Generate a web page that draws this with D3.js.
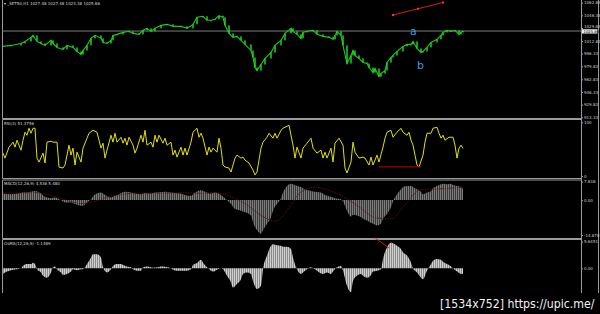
<!doctype html>
<html lang="en">
<head>
<meta charset="utf-8">
<title>SET50 H1 - RSI, MACD, OsMA</title>
<script src="https://cdnjs.cloudflare.com/ajax/libs/d3/7.8.5/d3.min.js"></script>
<style>
  body { margin: 0; background: #000; }
  svg { display: block; }
  text { font-family: "DejaVu Sans", sans-serif; }
</style>
</head>
<body>
<svg id="svg" width="600" height="314"></svg>
<script>
// bars are counted from the left edge of the chart (H1 bars)
var priceBars = [0,4,9,11,14,15,17,19,21,24,25,27,30,32,35,37,39,40,42,44,46,49,50,52,54,55,57,60,63,65,68,70,72,74,76,79,82,85,89,92,95,97,100,102,104,106,108,110,111,113,115,117,119,121,124,125,126,127,129,131,134,136,139,141,144,145,147,149,150,152,155,157,160,163,165,166,167,169,170,172,174,175,176,178,180,182,183,185,186,188,189,191,192,194,195,197,200,202,204,205,207,209,210,212,214,217,219,220,222,224,226,228,229,230];
var priceClose = [1005.8,1007.1,1009.7,1012.3,1017.6,1020.2,1012.3,1009.7,1007.1,1013.7,1009.7,1004.5,1001.9,1007.1,1004.5,999.2,995.3,1000.5,1007.1,1016.3,1020.2,1016.3,1011.0,1009.7,1013.7,1020.2,1021.5,1024.1,1025.5,1022.8,1021.5,1026.8,1029.4,1025.5,1029.4,1033.3,1034.6,1032.0,1032.0,1029.4,1034.6,1043.8,1045.1,1039.9,1039.9,1041.2,1045.8,1043.8,1033.3,1022.8,1017.6,1018.9,1013.7,1008.4,1000.5,991.4,978.2,974.3,982.2,990.1,997.9,1007.1,1013.7,1022.8,1029.4,1025.5,1021.5,1016.3,1024.1,1025.5,1026.8,1021.5,1018.9,1017.6,1015.0,1020.2,1025.5,1020.2,1007.1,983.5,994.0,1000.5,994.0,990.1,984.8,983.5,978.2,971.7,976.9,966.4,970.4,974.3,984.8,991.4,994.0,999.2,1005.8,1008.4,1008.4,1012.3,1003.2,997.9,999.2,1004.5,1011.0,1015.0,1020.2,1024.1,1026.8,1025.5,1026.8,1021.5,1024.1,1025.86];
var priceTicks = [1062.83,1046.33,1029.83,1012.83,996.33,979.83,962.83,946.33,929.83,913.33];
var lastPrice = 1025.86;

var trendBars = [195, 220];
var trendPrices = [1046.8, 1063.1];

var waveLabels = ['a', 'b'];
var waveBars = [205.2, 208.8];
var wavePrices = [1020.3, 976.3];

var rsiBars = [0,1,3,5,6,7,9,10,11,12,13,14,15,16,17,18,20,21,22,24,25,27,28,30,31,33,34,35,36,37,39,40,42,43,45,47,49,50,51,52,54,55,56,57,59,60,61,62,63,65,66,67,69,70,71,72,74,75,76,77,78,80,81,82,84,85,86,87,89,90,91,92,94,95,97,98,99,100,102,103,104,105,107,108,109,110,111,113,114,115,116,117,119,120,121,123,125,126,127,129,130,132,133,135,136,137,139,140,142,143,145,146,147,149,150,152,154,155,157,159,160,161,162,164,165,166,168,170,171,172,174,175,176,178,180,181,183,184,185,187,188,190,191,192,194,195,197,199,200,202,203,204,205,206,207,208,210,211,212,214,215,217,218,219,220,221,223,225,226,227,228,229,230];
var rsiValues = [42.6,33.3,53.7,63.0,53.7,66.7,48.1,66.7,81.5,75.9,88.9,79.6,88.9,88.9,33.3,25.9,42.6,24.1,63.0,64.8,63.0,63.0,16.7,14.8,20.4,57.4,38.9,51.9,20.4,44.4,25.9,51.9,70.4,79.6,85.2,81.5,51.9,61.1,33.3,48.1,75.9,63.0,79.6,63.0,72.2,61.1,70.4,57.4,72.2,57.4,42.6,51.9,75.9,63.0,85.2,57.4,63.0,53.7,75.9,63.0,75.9,61.1,70.4,57.4,63.0,38.9,48.1,35.2,53.7,38.9,51.9,38.9,63.0,81.5,88.9,72.2,79.6,70.4,38.9,53.7,44.4,51.9,44.4,70.4,51.9,20.4,16.7,14.8,7.4,20.4,33.3,38.9,33.3,35.2,29.6,24.1,11.1,1.9,7.4,51.9,63.0,72.2,79.6,70.4,79.6,70.4,85.2,88.9,92.6,94.4,57.4,33.3,53.7,33.3,51.9,61.1,70.4,51.9,42.6,48.1,33.3,44.4,33.3,51.9,25.9,61.1,70.4,57.4,14.8,5.6,25.9,63.0,44.4,33.3,35.2,33.3,20.4,35.2,20.4,38.9,25.9,53.7,70.4,81.5,85.2,72.2,81.5,88.9,81.5,75.9,81.5,66.7,57.4,38.9,20.4,16.7,38.9,63.0,79.6,79.6,88.9,90.7,79.6,70.4,75.9,66.7,72.2,72.2,57.4,33.3,51.9,57.4,51.4];
var rsiTicks = [100, 0];
var rsiMarkBars = [188, 209];
var rsiMarkValues = [17, 17];

var macdBars = [0,4,7,10,14,16,19,21,24,26,29,31,34,36,39,40,42,44,46,49,51,54,56,59,61,64,66,69,71,74,76,79,81,84,86,89,91,94,96,99,101,104,106,109,111,114,116,119,121,124,125,127,129,130,132,134,135,137,139,140,142,144,145,147,149,151,154,156,159,161,164,166,169,170,172,174,175,177,179,180,182,184,185,187,189,190,192,194,195,197,199,200,202,204,205,207,209,210,212,214,215,217,219,220,222,224,225,227,229,230];
var macdMain = [2.8,2.5,2.8,3.2,3.6,3.9,2.8,1.4,0.8,1.1,-0.1,-1.0,-1.0,-1.7,-2.4,-2.4,-1.0,0.4,2.5,3.2,2.2,1.1,1.8,3.0,3.6,3.2,2.8,2.5,3.0,2.8,3.2,3.4,3.6,3.2,3.0,2.8,2.2,1.8,3.2,4.2,3.6,2.8,3.2,2.2,0.8,-1.7,-3.8,-4.5,-5.2,-6.6,-9.4,-12.9,-14.3,-12.9,-10.1,-7.3,-4.5,-1.7,0.8,3.2,6.0,7.0,6.7,6.0,5.6,4.6,3.9,3.6,3.2,2.2,1.4,0.8,0.4,-0.6,-4.5,-7.0,-6.2,-6.6,-7.3,-8.0,-8.7,-9.8,-10.1,-10.8,-10.1,-8.0,-5.9,-3.1,-0.5,2.5,4.6,5.6,6.0,6.0,5.6,4.6,3.6,2.5,3.2,3.9,5.0,6.0,6.7,7.0,6.7,7.0,6.4,6.0,5.6,4.6];
var signalBars = [0,9,16,24,31,39,46,54,61,69,79,89,99,106,114,121,129,136,144,149,156,164,171,179,186,194,201,209,219,230];
var signalValues = [3.0,3.0,3.2,2.0,0.2,-1.5,-0.5,1.8,2.6,3.0,3.0,3.1,2.9,3.2,1.5,-1.5,-6.5,-9.0,-2.0,3.5,5.5,3.8,1.0,-3.5,-7.5,-8.0,-2.0,4.5,4.8,5.48];
var macdTicks = [7.838, 0, -14.878];
var macdTickLabels = ['7.838', '0.00', '-14.878'];

var osmaBars = [0,2,5,7,9,10,12,14,15,16,17,19,20,22,24,25,26,27,29,30,32,34,35,37,39,40,42,44,45,47,49,50,52,54,55,57,59,60,62,64,65,67,69,70,72,74,75,77,79,80,82,84,85,87,89,90,92,94,95,97,99,100,102,104,105,107,109,110,112,114,115,117,119,120,122,124,125,127,129,130,132,134,135,137,139,140,142,144,145,147,149,150,152,154,155,157,159,160,162,164,165,167,169,170,172,174,175,177,179,180,182,184,185,187,189,190,192,194,195,197,199,200,202,204,205,207,209,210,212,214,215,217,219,220,222,224,225,227,229,230];
var osmaValues = [-1.2,-0.7,-0.3,-0.2,0,0.5,0.9,0.9,1.2,0.9,-0.2,-0.9,-1.6,-2.0,-0.9,0.2,0.4,-0.2,-0.9,-1.4,-1.2,-0.7,-0.2,-0.4,-0.2,-0.2,0.9,2.3,3.0,3.0,2.3,0.2,-0.9,-0.2,0.5,0.9,0.9,0.7,0.4,0.2,-0.2,-0.5,-0.5,0.2,0.4,0.2,0.1,0.2,0.4,0.4,0.2,0,-0.3,-0.5,-0.5,-0.5,-0.5,-0.2,0.7,1.1,1.8,1.2,0.2,-0.5,-0.7,-0.3,0,-0.2,-1.6,-3.0,-4.1,-3.3,-2.3,-1.2,-0.9,-1.2,-2.7,-4.4,-3.7,-0.2,2.7,4.8,5.1,4.9,4.8,4.6,4.6,4.1,2.3,-0.2,-1.2,-0.9,-0.2,0.2,0,-0.5,-1.1,-1.2,-0.9,-1.2,-0.7,0.2,0.5,-0.5,-3.7,-5.1,-2.7,-1.6,-1.2,-1.6,-2.0,-1.4,-0.7,-0.5,-0.2,2.0,4.4,5.5,5.3,4.8,4.1,3.4,2.7,1.2,0,-0.9,-2.0,-2.3,-0.5,0.9,1.6,2.0,1.8,1.4,0.9,0.4,0,-0.7,-1.2,-1.15];
var osmaTicks = [5.6451, 0];
var osmaTickLabels = ['5.6451', '0.00'];
var osmaMarkBars = [186, 193];
var osmaMarkValues = [6.5, 4.3];

var titles = ['\u25BE _SET50,H1  1027.48 1027.48 1023.38 1025.86', 'RSI(3) 51.3756', 'MACD(12,26,9) 4.536 5.480', 'OsMA(12,26,9) -1.1489'];

var svg = d3.select('#svg');
svg.append('rect').attr('width', 600).attr('height', 314).attr('fill', '#000');

var left = 2.5, right = 581.5;
var panels = [
  {top: 0, bottom: 118.5},
  {top: 119.5, bottom: 178.5},
  {top: 180, bottom: 238.5},
  {top: 239.5, bottom: 293}
];

var x = d3.scaleLinear().domain([0, 289]).range([3, 581]);
var yPrice = d3.scaleLinear().domain([913.33, 1062.83]).range([117.3, 2.7]);
var yRsi = d3.scaleLinear().domain([0, 100]).range([176, 122.3]);
var yMacd = d3.scaleLinear().domain([-14.878, 7.838]).range([235, 181.7]);
var yOsma = d3.scaleLinear().domain([0, 5.6451]).range([268.3, 241.7]);

var defs = svg.append('defs');
panels.forEach(function(p, i) {
  defs.append('clipPath').attr('id', 'clip' + i)
    .append('rect').attr('x', left).attr('y', p.top + 0.5)
    .attr('width', right - left).attr('height', p.bottom - p.top - 1);
});

function stripes(id, fg, bg) {
  var pat = defs.append('pattern').attr('id', id)
    .attr('width', 2).attr('height', 2).attr('patternUnits', 'userSpaceOnUse');
  pat.append('rect').attr('width', 2).attr('height', 2).attr('fill', bg);
  pat.append('rect').attr('width', 1).attr('height', 2).attr('fill', fg);
}
stripes('macdFill', '#7c7c7c', '#383838');
stripes('osmaFill', '#cfcfcf', '#8a8a8a');

// frames
panels.forEach(function(p, i) {
  var g = svg.append('g').attr('stroke', '#9a9a9a').attr('stroke-width', 1);
  g.append('line').attr('x1', left).attr('x2', left).attr('y1', p.top).attr('y2', p.bottom);
  if (i > 0) g.append('line').attr('x1', left).attr('x2', right).attr('y1', p.top).attr('y2', p.top);
  if (i < 3) g.append('line').attr('x1', left).attr('x2', right).attr('y1', p.bottom).attr('y2', p.bottom);
});
svg.append('line').attr('x1', right).attr('x2', right).attr('y1', 0).attr('y2', 293)
  .attr('stroke', '#9a9a9a');
svg.append('line').attr('x1', 598.5).attr('x2', 598.5).attr('y1', 0).attr('y2', 293)
  .attr('stroke', '#9a9a9a');

// price panel
svg.append('line')
  .attr('x1', left).attr('x2', right)
  .attr('y1', yPrice(lastPrice)).attr('y2', yPrice(lastPrice))
  .attr('stroke', '#7c7c7c').attr('stroke-width', 1);

var price = d3.zip(priceBars, priceClose);
var gPrice = svg.append('g').attr('clip-path', 'url(#clip0)');

gPrice.append('path')
  .datum(price)
  .attr('d', d3.line().x(function(d) { return x(d[0]); }).y(function(d) { return yPrice(d[1]); }))
  .attr('fill', 'none')
  .attr('stroke', '#1bc81b')
  .attr('stroke-width', 1.1);

gPrice.selectAll('rect.body')
  .data(price.slice(1))
  .enter()
  .append('rect')
  .attr('class', 'body')
  .attr('x', function(d) { return x(d[0]) - 0.7; })
  .attr('width', 1.4)
  .attr('y', function(d, i) { return Math.min(yPrice(d[1]), yPrice(price[i][1])); })
  .attr('height', function(d, i) { return Math.max(1, Math.abs(yPrice(d[1]) - yPrice(price[i][1]))); })
  .attr('fill', '#22e022');

var trend = d3.zip(trendBars, trendPrices);
svg.append('path')
  .datum(trend)
  .attr('d', d3.line().x(function(d) { return x(d[0]); }).y(function(d) { return yPrice(d[1]); }))
  .attr('stroke', '#e01818').attr('stroke-width', 1).attr('fill', 'none');
var trendPts = trend.concat([[d3.mean(trendBars), d3.mean(trendPrices)]]);
svg.selectAll('rect.tp')
  .data(trendPts)
  .enter()
  .append('rect')
  .attr('class', 'tp')
  .attr('x', function(d) { return x(d[0]) - 1; })
  .attr('y', function(d) { return yPrice(d[1]) - 1; })
  .attr('width', 2).attr('height', 2)
  .attr('fill', '#ff3030');

svg.selectAll('text.wave')
  .data(waveLabels)
  .enter()
  .append('text')
  .attr('class', 'wave')
  .attr('x', function(d, i) { return x(waveBars[i]); })
  .attr('y', function(d, i) { return yPrice(wavePrices[i]); })
  .attr('text-anchor', 'middle')
  .attr('font-family', 'Arial, "Liberation Sans", sans-serif')
  .attr('font-size', 11)
  .attr('fill', '#2c9be0')
  .text(function(d) { return d; });

// RSI panel
var gRsi = svg.append('g').attr('clip-path', 'url(#clip1)');
gRsi.append('path')
  .datum(d3.zip(rsiBars, rsiValues))
  .attr('d', d3.line().x(function(d) { return x(d[0]); }).y(function(d) { return yRsi(d[1]); }))
  .attr('fill', 'none')
  .attr('stroke', '#e2e200')
  .attr('stroke-width', 1);
gRsi.append('path')
  .datum(d3.zip(rsiMarkBars, rsiMarkValues))
  .attr('d', d3.line().x(function(d) { return x(d[0]); }).y(function(d) { return yRsi(d[1]); }))
  .attr('stroke', '#a00000').attr('stroke-width', 1.3).attr('fill', 'none');

// MACD panel
var gMacd = svg.append('g').attr('clip-path', 'url(#clip2)');
gMacd.append('path')
  .datum(d3.zip(macdBars, macdMain))
  .attr('d', d3.area().curve(d3.curveMonotoneX)
    .x(function(d) { return x(d[0]); })
    .y0(yMacd(0))
    .y1(function(d) { return yMacd(d[1]); }))
  .attr('fill', 'url(#macdFill)');
gMacd.append('path')
  .datum(d3.zip(signalBars, signalValues))
  .attr('d', d3.line().curve(d3.curveMonotoneX).x(function(d) { return x(d[0]); }).y(function(d) { return yMacd(d[1]); }))
  .attr('fill', 'none')
  .attr('stroke', '#5e1212')
  .attr('stroke-width', 0.9)
  .attr('stroke-dasharray', '1.5,1');

// OsMA panel
var gOsma = svg.append('g').attr('clip-path', 'url(#clip3)');
gOsma.append('path')
  .datum(d3.zip(osmaBars, osmaValues))
  .attr('d', d3.area().curve(d3.curveMonotoneX)
    .x(function(d) { return x(d[0]); })
    .y0(yOsma(0))
    .y1(function(d) { return yOsma(d[1]); }))
  .attr('fill', 'url(#osmaFill)');
svg.append('path')
  .datum(d3.zip(osmaMarkBars, osmaMarkValues))
  .attr('d', d3.line().x(function(d) { return x(d[0]); }).y(function(d) { return yOsma(d[1]); }))
  .attr('stroke', '#d0182a').attr('stroke-width', 1).attr('fill', 'none');

// right-hand scales
function rightAxis(scale, values, labels) {
  var g = svg.append('g')
    .attr('transform', 'translate(' + right + ',0)')
    .call(d3.axisRight(scale).tickValues(values)
      .tickFormat(function(d, i) { return labels[i]; })
      .tickSize(1.5).tickPadding(1));
  g.select('.domain').remove();
  g.selectAll('line').attr('stroke', '#9a9a9a');
  g.selectAll('text').attr('fill', '#cfcfcf').attr('font-size', 4)
    .attr('font-family', '"DejaVu Sans", sans-serif');
  return g;
}
var priceAxis = rightAxis(yPrice, priceTicks, priceTicks.map(function(d) { return d.toFixed(2); }));
priceAxis.selectAll('text').filter(function(d) { return d === 1029.83; }).attr('dy', '-0.1em');
rightAxis(yRsi, rsiTicks, rsiTicks.map(String));
rightAxis(yMacd, macdTicks, macdTickLabels);
rightAxis(yOsma, osmaTicks, osmaTickLabels);

svg.append('rect')
  .attr('x', right + 0.5).attr('y', yPrice(lastPrice) - 1.8)
  .attr('width', 15.5).attr('height', 4.3)
  .attr('fill', '#ececec');
svg.append('text')
  .attr('x', right + 2).attr('y', yPrice(lastPrice) + 1.5)
  .attr('font-size', 3.8).attr('fill', '#000')
  .text(lastPrice.toFixed(2));

// window titles
svg.selectAll('text.title')
  .data(titles)
  .enter()
  .append('text')
  .attr('class', 'title')
  .attr('x', 4)
  .attr('y', function(d, i) { return panels[i].top + 5; })
  .attr('font-size', 4)
  .attr('fill', '#d8d8d8')
  .text(function(d) { return d; });

// upload watermark (narrow text, stretched upward)
svg.append('text')
  .attr('transform', 'translate(440,307.5) scale(1,1.12)')
  .attr('font-family', '"DejaVu Sans Mono", monospace')
  .attr('font-size', 11)
  .attr('fill', '#f2f2f2')
  .text('[1534x752] https://upic.me/');
</script>
</body>
</html>
